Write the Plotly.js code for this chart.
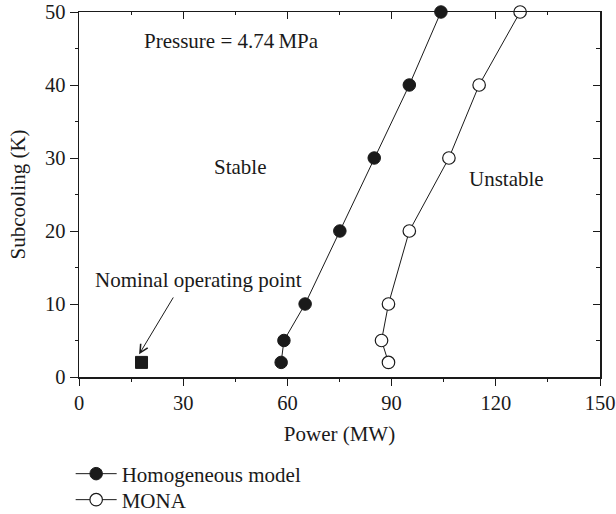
<!DOCTYPE html>
<html>
<head>
<meta charset="utf-8">
<script src="https://cdn.plot.ly/plotly-3.0.1.min.js"></script>
<style>html,body{margin:0;padding:0;background:#fff;}#chart{width:616px;height:514px;}</style>
</head>
<body>
<div id="chart"></div>
<script>
// Data
var subcooling = [2, 5, 10, 20, 30, 40, 50];
var powerHomogeneous = [58.2, 59.0, 65.1, 75.1, 85.0, 95.1, 104.2];
var powerMONA = [89.1, 87.1, 89.1, 95.1, 106.5, 115.2, 127.0];
var nominalPower = [18.0];
var nominalSubcooling = [2];
var xTicks = [0, 30, 60, 90, 120, 150];
var yTicks = [0, 10, 20, 30, 40, 50];

var FONT = '"Liberation Serif", "DejaVu Serif", serif';
var INK = '#1a1a1a';
var TXT = 21;

var traces = [
  {
    x: powerHomogeneous, y: subcooling, type: 'scatter', mode: 'lines+markers',
    name: 'Homogeneous model', cliponaxis: false, legend: 'legend',
    line: {color: INK, width: 1},
    marker: {symbol: 'circle', size: 12.5, color: INK, line: {color: INK, width: 1}}
  },
  {
    x: powerMONA, y: subcooling, type: 'scatter', mode: 'lines+markers',
    name: 'MONA', cliponaxis: false, legend: 'legend2',
    line: {color: INK, width: 1},
    marker: {symbol: 'circle', size: 12.5, color: '#ffffff', line: {color: INK, width: 1.2}}
  },
  {
    x: nominalPower, y: nominalSubcooling, type: 'scatter', mode: 'markers',
    showlegend: false, cliponaxis: false,
    marker: {symbol: 'square', size: 12, color: INK, line: {color: INK, width: 1}}
  },
  {
    x: [0], y: [0], xaxis: 'x2', yaxis: 'y2', type: 'scatter', mode: 'markers',
    showlegend: false, hoverinfo: 'skip', marker: {opacity: 0}
  }
];

function legendBox(yc) {
  return {
    x: -0.016, xanchor: 'left', y: yc, yanchor: 'middle',
    orientation: 'v', bgcolor: 'rgba(0,0,0,0)', borderwidth: 0,
    font: {family: FONT, size: TXT, color: INK}, itemwidth: 41
  };
}

var layout = {
  width: 616, height: 514,
  margin: {l: 79, r: 16, t: 12, b: 137, autoexpand: false},
  paper_bgcolor: '#ffffff', plot_bgcolor: '#ffffff',
  font: {family: FONT, size: TXT, color: INK},
  showlegend: true,
  legend: legendBox(-0.2658),
  legend2: legendBox(-0.337),
  xaxis: {
    range: [0, 150], tickvals: xTicks, ticktext: xTicks.map(String),
    ticks: 'outside', ticklen: 7, tickwidth: 1, tickcolor: INK,
    showline: true, linewidth: 1.5, linecolor: INK,
    showgrid: false, zeroline: false, fixedrange: true, automargin: false,
    tickfont: {family: FONT, size: 20.5, color: INK},
    minor: {dtick: 15, tick0: 15, ticks: 'outside', ticklen: 3, tickwidth: 1, tickcolor: INK, showgrid: false},
    title: {text: 'Power (MW)', font: {family: FONT, size: TXT, color: INK}, standoff: 13}
  },
  yaxis: {
    range: [0, 50], tickvals: yTicks, ticktext: yTicks.map(String),
    ticks: 'outside', ticklen: 8, tickwidth: 1, tickcolor: INK,
    showline: true, linewidth: 1.5, linecolor: INK,
    showgrid: false, zeroline: false, fixedrange: true, automargin: false,
    tickfont: {family: FONT, size: 20.5, color: INK},
    minor: {dtick: 10, tick0: 5, ticks: 'outside', ticklen: 3, tickwidth: 1, tickcolor: INK, showgrid: false},
    title: {text: 'Subcooling (K)', font: {family: FONT, size: TXT, color: INK}, standoff: 13}
  },
  xaxis2: {
    overlaying: 'x', side: 'top', anchor: 'y',
    range: [0, 150], tickvals: xTicks, showticklabels: false,
    ticks: 'inside', ticklen: 7, tickwidth: 1, tickcolor: INK,
    showline: true, linewidth: 1.5, linecolor: INK,
    showgrid: false, zeroline: false, fixedrange: true,
    minor: {dtick: 15, tick0: 15, ticks: 'inside', ticklen: 3, tickwidth: 1, tickcolor: INK, showgrid: false}
  },
  yaxis2: {
    overlaying: 'y', side: 'right', anchor: 'x',
    range: [0, 50], tickvals: yTicks, showticklabels: false,
    ticks: 'inside', ticklen: 7, tickwidth: 1, tickcolor: INK,
    showline: true, linewidth: 1.5, linecolor: INK,
    showgrid: false, zeroline: false, fixedrange: true,
    minor: {dtick: 10, tick0: 5, ticks: 'inside', ticklen: 4, tickwidth: 1, tickcolor: INK, showgrid: false}
  },
  annotations: [
    {x: 44, y: 46, xref: 'x', yref: 'y', text: 'Pressure = 4.74\u2009MPa', showarrow: false,
     font: {family: FONT, size: TXT, color: INK}},
    {x: 46.4, y: 28.8, xref: 'x', yref: 'y', text: 'Stable', showarrow: false,
     font: {family: FONT, size: TXT, color: INK}},
    {x: 123.2, y: 27.1, xref: 'x', yref: 'y', text: 'Unstable', showarrow: false,
     font: {family: FONT, size: TXT, color: INK}},
    {x: 34.5, y: 13.3, xref: 'x', yref: 'y', text: 'Nominal operating point', showarrow: false,
     font: {family: FONT, size: TXT, color: INK}},
    {x: 17.3, y: 3.1, xref: 'x', yref: 'y', ax: 27.4, ay: 11.1, axref: 'x', ayref: 'y',
     text: '', showarrow: true, arrowhead: 5, arrowsize: 1.6, arrowwidth: 1, arrowcolor: INK}
  ]
};

Plotly.newPlot('chart', traces, layout, {displayModeBar: false, staticPlot: true});
</script>
</body>
</html>
